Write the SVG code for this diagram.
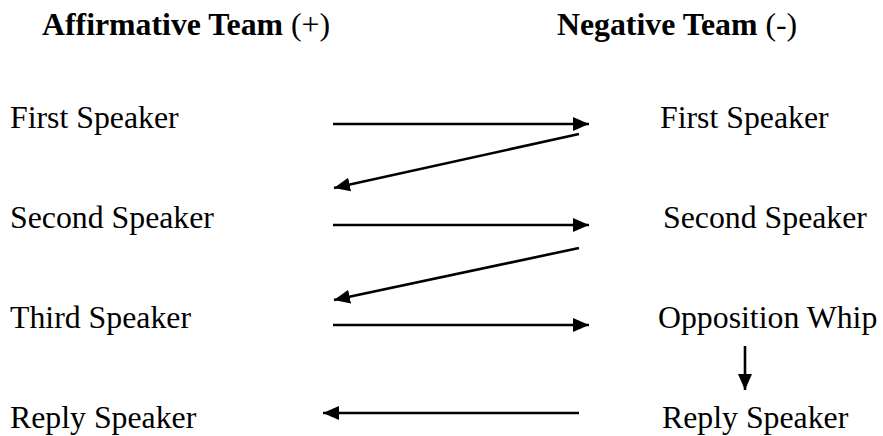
<svg xmlns="http://www.w3.org/2000/svg" width="883" height="436" viewBox="0 0 883 436">
<style>
text{font-family:"Liberation Serif","Times New Roman",serif;font-size:31.8px;fill:#000}
.h{font-weight:bold}
.n{font-weight:normal}
.c{stroke:#000;stroke-width:2.6;fill:none}
</style>
<defs>
<marker id="ah" viewBox="0 0 16 14" refX="16" refY="7" markerWidth="16" markerHeight="14" markerUnits="userSpaceOnUse" orient="auto">
<path d="M0,0 L16,7 L0,14 z" fill="#000"/>
</marker>
</defs>
<rect width="883" height="436" fill="#fff"/>
<g id="head-aff"><text class="h" x="42" y="35">Affirmative Team <tspan class="n">(+)</tspan></text></g>
<g id="head-neg"><text class="h" x="557" y="35">Negative Team <tspan class="n">(-)</tspan></text></g>
<g id="aff1"><text x="10" y="128">First Speaker</text></g>
<g id="aff2"><text x="10" y="228">Second Speaker</text></g>
<g id="aff3"><text x="10" y="328">Third Speaker</text></g>
<g id="aff4"><text x="10" y="428">Reply Speaker</text></g>
<g id="neg1"><text x="660" y="128">First Speaker</text></g>
<g id="neg2"><text x="663" y="228">Second Speaker</text></g>
<g id="neg3"><text x="658" y="328">Opposition Whip</text></g>
<g id="neg4"><text x="662" y="428">Reply Speaker</text></g>
<g id="connectors">
<line class="c" x1="333" y1="124" x2="589" y2="124" marker-end="url(#ah)"/>
<line class="c" x1="579" y1="134" x2="334" y2="188" marker-end="url(#ah)"/>
<line class="c" x1="333" y1="225" x2="589" y2="225" marker-end="url(#ah)"/>
<line class="c" x1="579" y1="248" x2="334" y2="300" marker-end="url(#ah)"/>
<line class="c" x1="333" y1="325" x2="589" y2="325" marker-end="url(#ah)"/>
<line class="c" x1="745" y1="346" x2="745" y2="390" marker-end="url(#ah)"/>
<line class="c" x1="579" y1="413" x2="323" y2="413" marker-end="url(#ah)"/>
</g>
</svg>
